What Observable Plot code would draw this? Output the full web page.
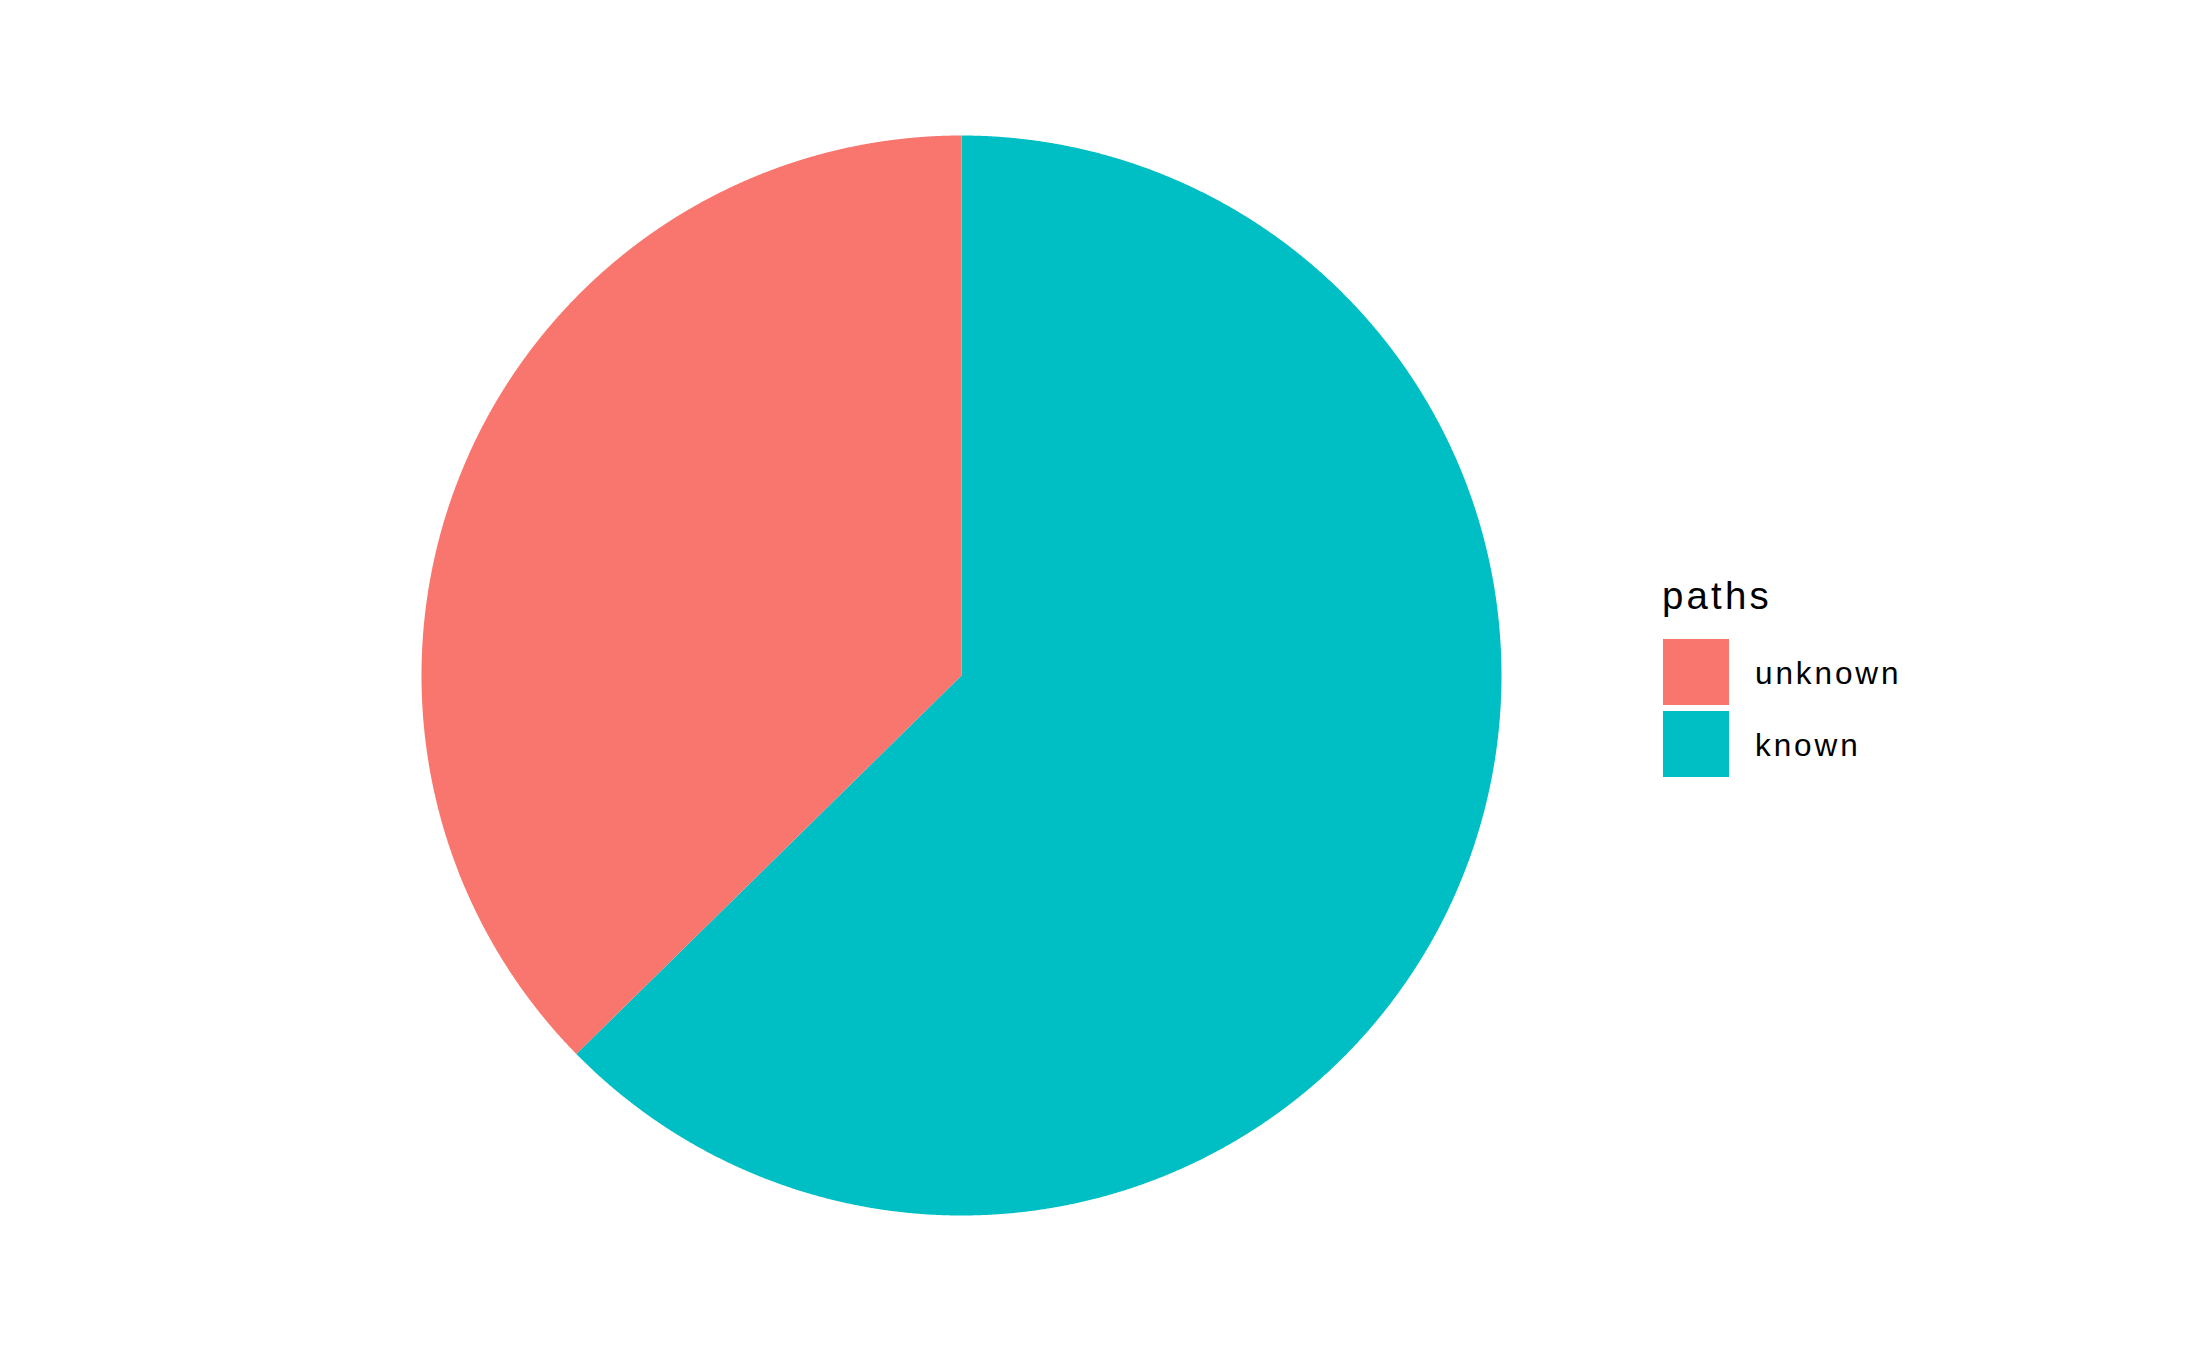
<!DOCTYPE html>
<html>
<head>
<meta charset="utf-8">
<script src="https://cdn.jsdelivr.net/npm/d3@7"></script>
<script src="https://cdn.jsdelivr.net/npm/@observablehq/plot@0.6"></script>
<style>
  body { margin: 0; background: #fff; }
  #wrap { position: relative; width: 2187px; height: 1351px; font-family: "Liberation Sans", Arial, sans-serif; }
  #legend { position: absolute; left: 0; top: 0; color: #000; }
  .ltitle { font-size: 38.4px; line-height: 1; letter-spacing: 3.2px; position: absolute; left: 1662px; top: 576.5px; white-space: nowrap; }
  .key { position: absolute; width: 66px; height: 66px; left: 1663px; }
  .lab { position: absolute; font-size: 31.5px; line-height: 1; letter-spacing: 2.9px; white-space: nowrap; left: 1755px; }
</style>
</head>
<body>
<div id="wrap"></div>
<script>
const paths = ["unknown", "known"];
const shares = [0.3736, 0.6264];
const colors = ["#F8766D", "#00BFC4"];

// Build slice polygons (clockwise from 12 o'clock: known first, then unknown)
const order = ["known", "unknown"];
const rows = [];
let start = 0;
for (const name of order) {
  const v = shares[paths.indexOf(name)];
  const a0 = start * 2 * Math.PI, a1 = (start + v) * 2 * Math.PI;
  rows.push({paths: name, x: 0, y: 0});
  const n = Math.ceil((a1 - a0) / 0.002);
  for (let i = 0; i <= n; i++) {
    const a = a0 + (a1 - a0) * i / n;
    rows.push({paths: name, x: Math.sin(a), y: Math.cos(a)});
  }
  rows.push({paths: name, x: 0, y: 0});
  start += v;
}

const plot = Plot.plot({
  width: 2187,
  height: 1351,
  margin: 0,
  x: {domain: [-1, 1], range: [421, 1501], axis: null},
  y: {domain: [-1, 1], range: [1215, 135], axis: null},
  color: {domain: paths, range: colors},
  marks: [
    Plot.line(rows, {x: "x", y: "y", z: "paths", fill: "paths", stroke: null, curve: "linear"})
  ]
});

const wrap = document.getElementById("wrap");
wrap.appendChild(plot);

const color = plot.scale("color");
const legend = document.createElement("div");
legend.id = "legend";
const t = document.createElement("div");
t.className = "ltitle";
t.textContent = "paths";
legend.appendChild(t);
const keyTops = [639, 711];
const labTops = [658.3, 730.3];
paths.forEach((p, i) => {
  const k = document.createElement("div");
  k.className = "key";
  k.style.top = keyTops[i] + "px";
  k.style.background = color.apply(p);
  legend.appendChild(k);
  const l = document.createElement("div");
  l.className = "lab";
  l.style.top = labTops[i] + "px";
  l.textContent = p;
  legend.appendChild(l);
});
wrap.appendChild(legend);
</script>
</body>
</html>
